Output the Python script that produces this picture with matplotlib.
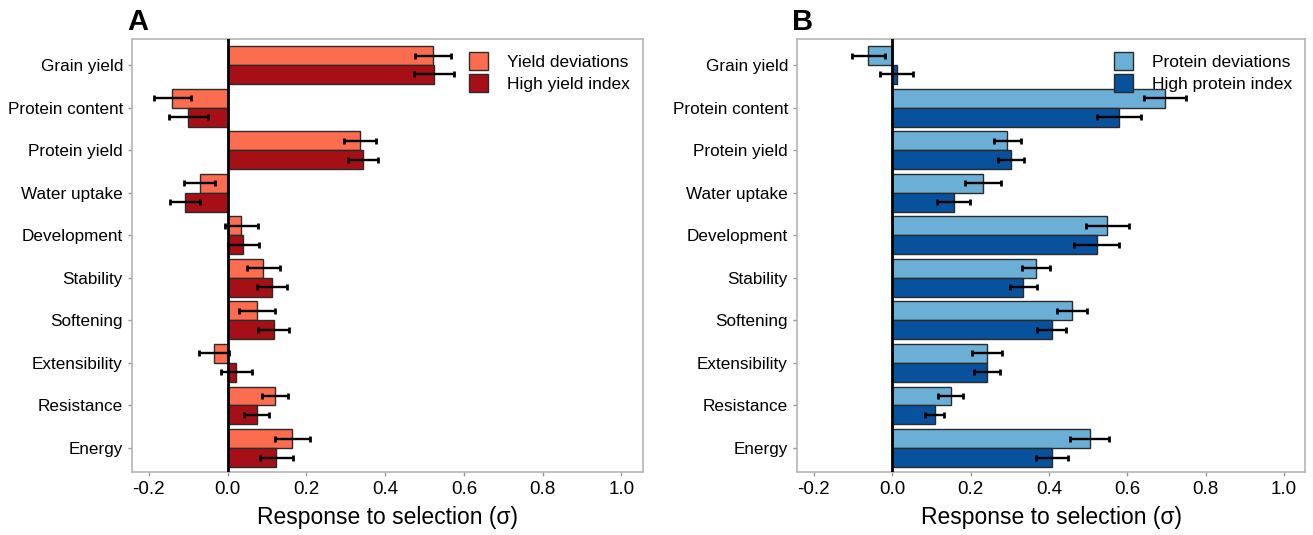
import matplotlib
matplotlib.use("Agg")
import matplotlib.pyplot as plt
import numpy as np

plt.rcParams['font.family'] = ['Liberation Sans', 'DejaVu Sans']

# --- Data ---
traits = ['Grain yield', 'Protein content', 'Protein yield', 'Water uptake',
          'Development', 'Stability', 'Softening', 'Extensibility',
          'Resistance', 'Energy']

# Panel A
yield_dev = [0.521, -0.141, 0.336, -0.071, 0.035, 0.091, 0.075, -0.035, 0.120, 0.164]
yield_dev_err = [0.046, 0.047, 0.041, 0.040, 0.042, 0.041, 0.045, 0.038, 0.032, 0.044]
yield_idx = [0.524, -0.100, 0.344, -0.109, 0.040, 0.112, 0.117, 0.022, 0.074, 0.124]
yield_idx_err = [0.050, 0.049, 0.039, 0.038, 0.040, 0.038, 0.039, 0.040, 0.032, 0.041]

# Panel B
prot_dev = [-0.061, 0.697, 0.294, 0.233, 0.549, 0.367, 0.459, 0.242, 0.149, 0.504]
prot_dev_err = [0.042, 0.053, 0.035, 0.046, 0.055, 0.036, 0.039, 0.038, 0.032, 0.050]
prot_idx = [0.012, 0.580, 0.304, 0.157, 0.522, 0.335, 0.407, 0.242, 0.108, 0.408]
prot_idx_err = [0.042, 0.056, 0.033, 0.042, 0.058, 0.035, 0.037, 0.034, 0.024, 0.041]

xticks = [-0.2, 0.0, 0.2, 0.4, 0.6, 0.8, 1.0]


def draw_panel(ax, v1, e1, v2, e2, c1, c2, lab1, lab2, letter):
    y = np.arange(len(traits))
    h = 0.445
    kw = dict(height=h, edgecolor='#2b2b2b', linewidth=1.0, zorder=2)
    ax.barh(y - h / 2, v1, color=c1, label=lab1, **kw)
    ax.barh(y + h / 2, v2, color=c2, label=lab2, **kw)
    ekw = dict(fmt='none', ecolor='black', elinewidth=1.7, capsize=2.5,
               capthick=2, zorder=3)
    ax.errorbar(v1, y - h / 2, xerr=e1, **ekw)
    ax.errorbar(v2, y + h / 2, xerr=e2, **ekw)
    ax.axvline(0, color='black', linewidth=2, zorder=4)

    ax.set_yticks(y)
    ax.set_yticklabels(traits, fontsize=12.3)
    ax.set_ylim(len(traits) - 0.44, -0.61)
    ax.set_xlim(-0.243, 1.054)
    ax.set_xticks(xticks)
    ax.set_xticklabels([f'{t:.1f}' for t in xticks], fontsize=13.5)
    ax.set_xlabel('Response to selection (σ)', fontsize=16.5, labelpad=6)
    ax.tick_params(axis='both', colors='#999999', labelcolor='black',
                   length=3, width=1)
    for s in ax.spines.values():
        s.set_color('#b5b5b5')
        s.set_linewidth(1.2)
    ax.legend(loc='upper right', frameon=False, fontsize=12.5,
              handlelength=1.1, handleheight=1.2, handletextpad=1.1,
              labelspacing=0.25, borderaxespad=0.35)
    ax.text(-0.01, 1.008, letter, transform=ax.transAxes, fontsize=21,
            fontweight='bold', ha='left', va='bottom')


fig = plt.figure(figsize=(13.13, 5.35), dpi=100)
ax1 = fig.add_axes([0.1005, 0.118, 0.389, 0.809])
ax2 = fig.add_axes([0.607, 0.118, 0.387, 0.809])

draw_panel(ax1, yield_dev, yield_dev_err, yield_idx, yield_idx_err,
           '#fc6c4e', '#a50f15', 'Yield deviations', 'High yield index', 'A')
draw_panel(ax2, prot_dev, prot_dev_err, prot_idx, prot_idx_err,
           '#6baed6', '#08519c', 'Protein deviations', 'High protein index', 'B')

fig.savefig('out.png', dpi=100)
